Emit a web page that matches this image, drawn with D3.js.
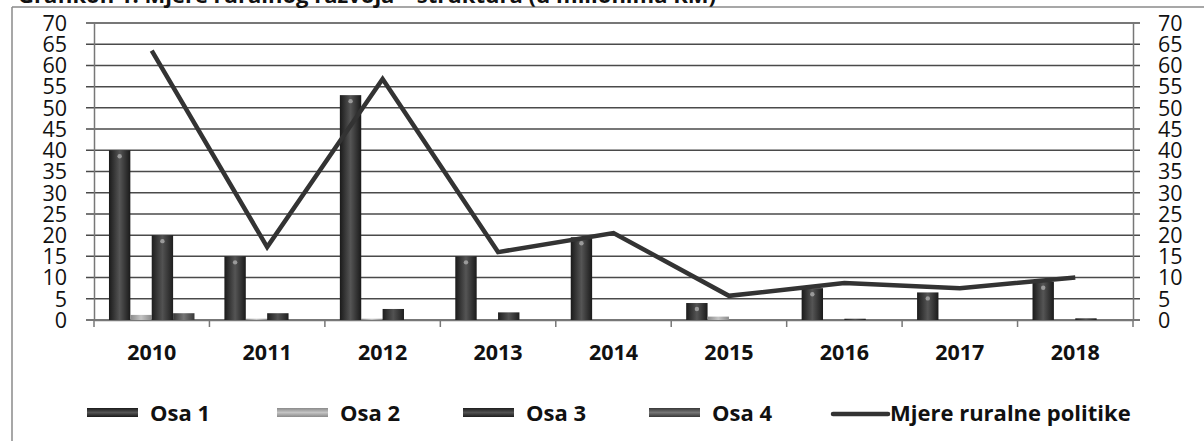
<!DOCTYPE html>
<html>
<head>
<meta charset="utf-8">
<script src="https://cdn.jsdelivr.net/npm/d3@7"></script>
<style>
  html, body { margin: 0; padding: 0; background: #fff; }
  svg { display: block; }
  text { font-family: "Open Sans", "DejaVu Sans", sans-serif; fill: #111; }
</style>
</head>
<body>
<svg id="chart" width="1204" height="441"></svg>
<script>
// ---- data ----
const years = ["2010", "2011", "2012", "2013", "2014", "2015", "2016", "2017", "2018"];
const seriesNames = ["Osa 1", "Osa 2", "Osa 3", "Osa 4"];
const osa1 = [40, 15, 53, 15, 19.5, 4, 7.5, 6.5, 9];
const osa2 = [1.2, 0.3, 0.3, 0, 0, 0.8, 0, 0, 0];
const osa3 = [20, 1.6, 2.6, 1.8, 0, 0, 0.3, 0, 0.4];
const osa4 = [1.6, 0, 0, 0, 0, 0, 0, 0, 0];
const lineName = "Mjere ruralne politike";
const mjere = [63.5, 17.2, 56.8, 16, 20.5, 5.7, 8.7, 7.5, 10];
const yTicks = [0, 5, 10, 15, 20, 25, 30, 35, 40, 45, 50, 55, 60, 65, 70];
const titleText = "Grafikon 1: Mjere ruralnog razvoja – struktura (u milionima KM)";

const barSeries = [osa1, osa2, osa3, osa4];

const svg = d3.select("#chart");
const W = 1204, H = 441;
const plot = { left: 94, right: 1133, top: 23, bottom: 320 };

const x0 = d3.scaleBand().domain(years).range([plot.left, plot.right]).paddingInner(0).paddingOuter(0);
const x1 = d3.scaleBand().domain(seriesNames).range([0, x0.bandwidth()]).paddingInner(0).paddingOuter(0.7);
const y = d3.scaleLinear().domain([0, 70]).range([plot.bottom, plot.top]);

// gradients
const defs = svg.append("defs");
const grads = [
  { id: "g0", edge: "#1a1a1a", mid: "#555" },
  { id: "g1", edge: "#8a8a8a", mid: "#c4c4c4" },
  { id: "g2", edge: "#1e1e1e", mid: "#525252" },
  { id: "g3", edge: "#383838", mid: "#767676" }
];
grads.forEach(g => {
  const lg = defs.append("linearGradient").attr("id", g.id).attr("x1", "0").attr("x2", "1").attr("y1", "0").attr("y2", "0");
  lg.append("stop").attr("offset", "0%").attr("stop-color", g.edge);
  lg.append("stop").attr("offset", "50%").attr("stop-color", g.mid);
  lg.append("stop").attr("offset", "100%").attr("stop-color", g.edge);
  const lv = defs.append("linearGradient").attr("id", g.id + "v").attr("x1", "0").attr("x2", "0").attr("y1", "0").attr("y2", "1");
  lv.append("stop").attr("offset", "0%").attr("stop-color", g.edge);
  lv.append("stop").attr("offset", "50%").attr("stop-color", g.mid);
  lv.append("stop").attr("offset", "100%").attr("stop-color", g.edge);
});

// outer frame
svg.append("line").attr("x1", 12).attr("x2", 12).attr("y1", 7).attr("y2", H).attr("stroke", "#8a8a8a").attr("stroke-width", 1.5);
svg.append("line").attr("x1", 12).attr("x2", W).attr("y1", 7).attr("y2", 7).attr("stroke", "#8a8a8a").attr("stroke-width", 1.5);

// title (cut at top as in the scan)
svg.append("text").attr("x", 18).attr("y", 3).attr("font-size", 22).attr("font-weight", "bold").text(titleText);

// gridlines
const grid = svg.append("g");
grid.selectAll("line").data(yTicks).join("line")
  .attr("x1", plot.left - 8).attr("x2", plot.right + 7)
  .attr("y1", d => y(d)).attr("y2", d => y(d))
  .attr("stroke", "#4a4a4a").attr("stroke-width", 1.5);

// left axis
const yAxisL = d3.axisLeft(y).tickValues(yTicks).tickSize(0).tickPadding(27);
const gL = svg.append("g").attr("transform", `translate(${plot.left},0)`).call(yAxisL);
gL.select(".domain").attr("stroke", "#777").attr("stroke-width", 1.5);
gL.selectAll("text").attr("font-size", 21.5).attr("font-family", "Open Sans, sans-serif").attr("fill", "#111").attr("dy", "0.34em");

// right axis
const yAxisR = d3.axisRight(y).tickValues(yTicks).tickSize(0).tickPadding(25);
const gR = svg.append("g").attr("transform", `translate(${plot.right},0)`).call(yAxisR);
gR.select(".domain").attr("stroke", "#777").attr("stroke-width", 1.5);
gR.selectAll("text").attr("font-size", 21.5).attr("font-family", "Open Sans, sans-serif").attr("fill", "#111").attr("dy", "0.34em");

// x axis
const xAxis = d3.axisBottom(x0).tickSize(0).tickPadding(25);
const gX = svg.append("g").attr("transform", `translate(0,${plot.bottom})`).call(xAxis);
gX.select(".domain").attr("stroke", "#777").attr("stroke-width", 1.5);
gX.selectAll("text").attr("font-size", 21.5).attr("font-weight", "bold").attr("font-family", "Open Sans, sans-serif").attr("fill", "#111");
const boundaries = years.map(d => x0(d)).concat([x0.range()[1]]);
gX.selectAll("line.bt").data(boundaries).join("line").attr("class", "bt")
  .attr("x1", d => d).attr("x2", d => d).attr("y1", 0).attr("y2", 7)
  .attr("stroke", "#777").attr("stroke-width", 1.5);

// bars
const barG = svg.append("g");
barSeries.forEach((vals, si) => {
  barG.append("g").selectAll("rect").data(vals.map((v, i) => ({ v, year: years[i] }))).join("rect")
    .attr("x", d => x0(d.year) + x1(seriesNames[si]))
    .attr("width", x1.bandwidth())
    .attr("y", d => y(d.v))
    .attr("height", d => y(0) - y(d.v))
    .attr("fill", `url(#g${si})`);
  barG.append("g").selectAll("circle").data(vals.map((v, i) => ({ v, year: years[i] })).filter(d => d.v >= 3)).join("circle")
    .attr("cx", d => x0(d.year) + x1(seriesNames[si]) + x1.bandwidth() / 2)
    .attr("cy", d => y(d.v) + 6)
    .attr("r", 2.2)
    .attr("fill", "#9a9a9a");
});

// line
const lineGen = d3.line().x((d, i) => x0(years[i]) + x0.bandwidth() / 2).y(d => y(d));
svg.append("path").datum(mjere).attr("d", lineGen)
  .attr("fill", "none").attr("stroke", "#333").attr("stroke-width", 4.5).attr("stroke-linejoin", "miter");

// legend
const legendItems = [
  { name: seriesNames[0], x: 87, type: "bar", g: "g0" },
  { name: seriesNames[1], x: 277, type: "bar", g: "g1" },
  { name: seriesNames[2], x: 463, type: "bar", g: "g2" },
  { name: seriesNames[3], x: 649, type: "bar", g: "g3" },
  { name: lineName, x: 833, type: "line" }
];
const lg = svg.append("g");
legendItems.forEach(it => {
  if (it.type === "bar") {
    lg.append("rect").attr("x", it.x).attr("y", 408).attr("width", 51).attr("height", 9).attr("fill", `url(#${it.g}v)`);
    lg.append("text").attr("x", it.x + 63).attr("y", 421).attr("font-size", 22).attr("font-weight", "bold").text(it.name);
  } else {
    lg.append("line").attr("x1", it.x).attr("x2", it.x + 55).attr("y1", 414).attr("y2", 414)
      .attr("stroke", "#333").attr("stroke-width", 4.5).attr("stroke-linecap", "round");
    lg.append("text").attr("x", it.x + 57).attr("y", 421).attr("font-size", 22).attr("font-weight", "bold").text(it.name);
  }
});
</script>
</body>
</html>
